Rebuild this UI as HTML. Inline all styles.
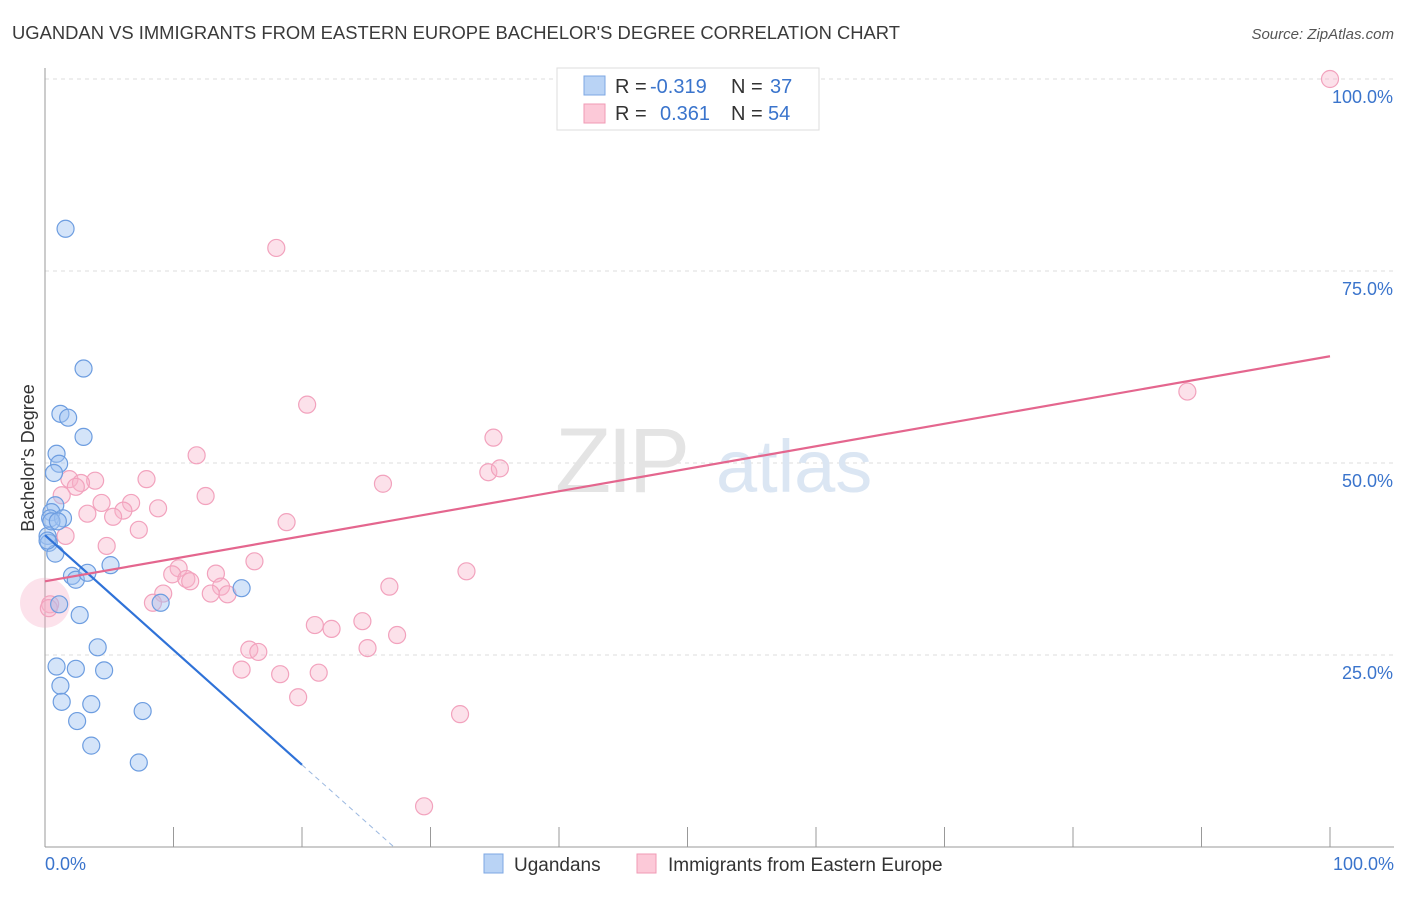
<!DOCTYPE html>
<html><head><meta charset="utf-8"><style>
body{margin:0;background:#fff;font-family:"Liberation Sans",sans-serif;}
svg text{font-family:"Liberation Sans",sans-serif;}
</style></head><body>
<svg id="chart" width="1406" height="892" xmlns="http://www.w3.org/2000/svg">
<text x="12" y="39" font-size="18" fill="#3a3a3a" textLength="888" lengthAdjust="spacingAndGlyphs">UGANDAN VS IMMIGRANTS FROM EASTERN EUROPE BACHELOR'S DEGREE CORRELATION CHART</text>
<text x="1394" y="39" font-size="15" fill="#555" font-style="italic" text-anchor="end">Source: ZipAtlas.com</text>
<g id="grid"></g>
<g><text x="555" y="492" font-size="92" fill="#e4e4e4" font-family="Liberation Serif,serif" letter-spacing="-4">ZIP</text><text x="716" y="492" font-size="74" fill="#dbe6f3">atlas</text></g>
<text x="34" y="458" font-size="18" fill="#333" text-anchor="middle" transform="rotate(-90 34 458)">Bachelor's Degree</text>
<g id="pts"></g>
<g id="lines"></g>
<g>
<rect x="557" y="68" width="262" height="62" fill="#fff" stroke="#ddd"/>
<rect x="584" y="76" width="21" height="19" fill="#b9d3f5" stroke="#7da7e3"/>
<rect x="584" y="104" width="21" height="19" fill="#fcc9d8" stroke="#f09ab5"/>
<text x="615" y="93" font-size="20" fill="#333">R =</text><text x="650" y="93" font-size="20" fill="#3a74cc">-0.319</text>
<text x="731" y="93" font-size="20" fill="#333">N =</text><text x="770" y="93" font-size="20" fill="#3a74cc">37</text>
<text x="615" y="120" font-size="20" fill="#333">R =</text><text x="660" y="120" font-size="20" fill="#3a74cc">0.361</text>
<text x="731" y="120" font-size="20" fill="#333">N =</text><text x="768" y="120" font-size="20" fill="#3a74cc">54</text>
</g>
<g>
<rect x="484" y="854" width="19" height="19" fill="#b9d3f5" stroke="#7da7e3"/>
<text x="514" y="871" font-size="19" fill="#333">Ugandans</text>
<rect x="637" y="854" width="19" height="19" fill="#fcc9d8" stroke="#f09ab5"/>
<text x="668" y="871" font-size="19" fill="#333">Immigrants from Eastern Europe</text>
</g>
</svg>
<script>
const ugX=[1.6,3.0,1.2,1.8,3.0,0.9,1.1,0.7,0.8,0.5,0.4,1.4,0.2,0.3,0.8,2.1,2.4,3.3,5.1,15.3,9.0,1.1,2.7,4.1,0.9,2.4,4.6,1.2,1.3,3.6,2.5,7.6,3.6,7.3,0.2,0.5,1.0];
const ugY=[80.5,62.3,56.4,55.9,53.4,51.2,49.9,48.7,44.5,43.6,42.8,42.8,40.5,39.6,38.2,35.3,34.8,35.7,36.7,33.7,31.8,31.6,30.2,26.0,23.5,23.2,23.0,21.0,18.9,18.6,16.4,17.7,13.2,11.0,39.9,42.4,42.4];
const eeX=[100,18,20.4,88.9,34.9,11.8,34.5,35.4,26.3,7.9,1.9,3.9,2.8,2.4,1.3,12.5,4.4,6.7,8.8,6.1,5.3,3.3,18.8,7.3,4.8,16.3,10.4,9.9,11,11.3,13.3,32.8,26.8,13.7,14.2,12.9,9.2,8.4,0.4,24.7,21,22.3,27.4,25.1,15.9,16.6,15.3,18.3,21.3,19.7,32.3,29.5,0.3,1.6];
const eeY=[100,78,57.6,59.3,53.3,51,48.8,49.3,47.3,47.9,47.9,47.7,47.4,46.9,45.8,45.7,44.8,44.8,44.1,43.8,43,43.4,42.3,41.3,39.2,37.2,36.3,35.5,34.9,34.6,35.6,35.9,33.9,33.9,32.9,33,33,31.8,31.6,29.4,28.9,28.4,27.6,25.9,25.7,25.4,23.1,22.5,22.7,19.5,17.3,5.3,31.1,40.5];
const ugLine=[40.6,-1.495], eeLine=[34.6,0.293];
const X=v=>45+v*12.85, Y=v=>847-v*7.68;
const NS='http://www.w3.org/2000/svg';
const mk=(p,t,a)=>{const e=document.createElementNS(NS,t);for(const k in a)e.setAttribute(k,a[k]);document.getElementById(p).appendChild(e);return e;};
[25,50,75,100].forEach(v=>{
 const l=mk('grid','line',{x1:45,x2:1394,y1:Y(v),y2:Y(v),stroke:'#ddd','stroke-dasharray':'4,4'});
 
 
 const t=mk('grid','text',{x:1393,y:Y(v)+24,'font-size':18,fill:'#3a74cc','text-anchor':'end'});t.textContent=v.toFixed(1)+'%';
 
 
});
const ax=mk('grid','line',{x1:45,x2:45,y1:68,y2:847,stroke:'#999'});


const bx=mk('grid','line',{x1:45,x2:1394,y1:847,y2:847,stroke:'#999'});


for(let i=0;i<=10;i++){const tk=mk('grid','line',{x1:X(i*10),x2:X(i*10),y1:827,y2:847,stroke:'#999'});
 
 }
[[0,'0.0%','start',45],[100,'100.0%','end',1394]].forEach(d=>{const t=mk('grid','text',{x:d[3],y:870,'font-size':18,fill:'#3a74cc','text-anchor':d[2]});t.textContent=d[1];
 
 });
const big=mk('pts','circle',{cx:X(0),cy:Y(31.8),r:25,fill:'rgba(246,160,188,0.3)',stroke:'none'});


eeX.forEach((x,i)=>{const c=mk('pts','circle',{cx:X(x),cy:Y(eeY[i]),r:8.5,fill:'rgba(248,180,202,0.4)',stroke:'#f2a2bd','stroke-width':1.2});
 
 });
ugX.forEach((x,i)=>{const c=mk('pts','circle',{cx:X(x),cy:Y(ugY[i]),r:8.5,fill:'rgba(160,196,242,0.45)',stroke:'#6d9de0','stroke-width':1.2});
 
 });
const ue=20, uz=-ugLine[0]/ugLine[1];
const l1=mk('lines','line',{x1:X(0),y1:Y(ugLine[0]),x2:X(ue),y2:Y(ugLine[0]+ugLine[1]*ue),stroke:'#2f72d8','stroke-width':2.2});


const l2=mk('lines','line',{x1:X(ue),y1:Y(ugLine[0]+ugLine[1]*ue),x2:X(uz),y2:Y(0),stroke:'#9bb8e0','stroke-width':1,'stroke-dasharray':'5,4'});


const l3=mk('lines','line',{x1:X(0),y1:Y(eeLine[0]),x2:X(100),y2:Y(eeLine[0]+eeLine[1]*100),stroke:'#e4668e','stroke-width':2.2});


</script>
</body></html>
